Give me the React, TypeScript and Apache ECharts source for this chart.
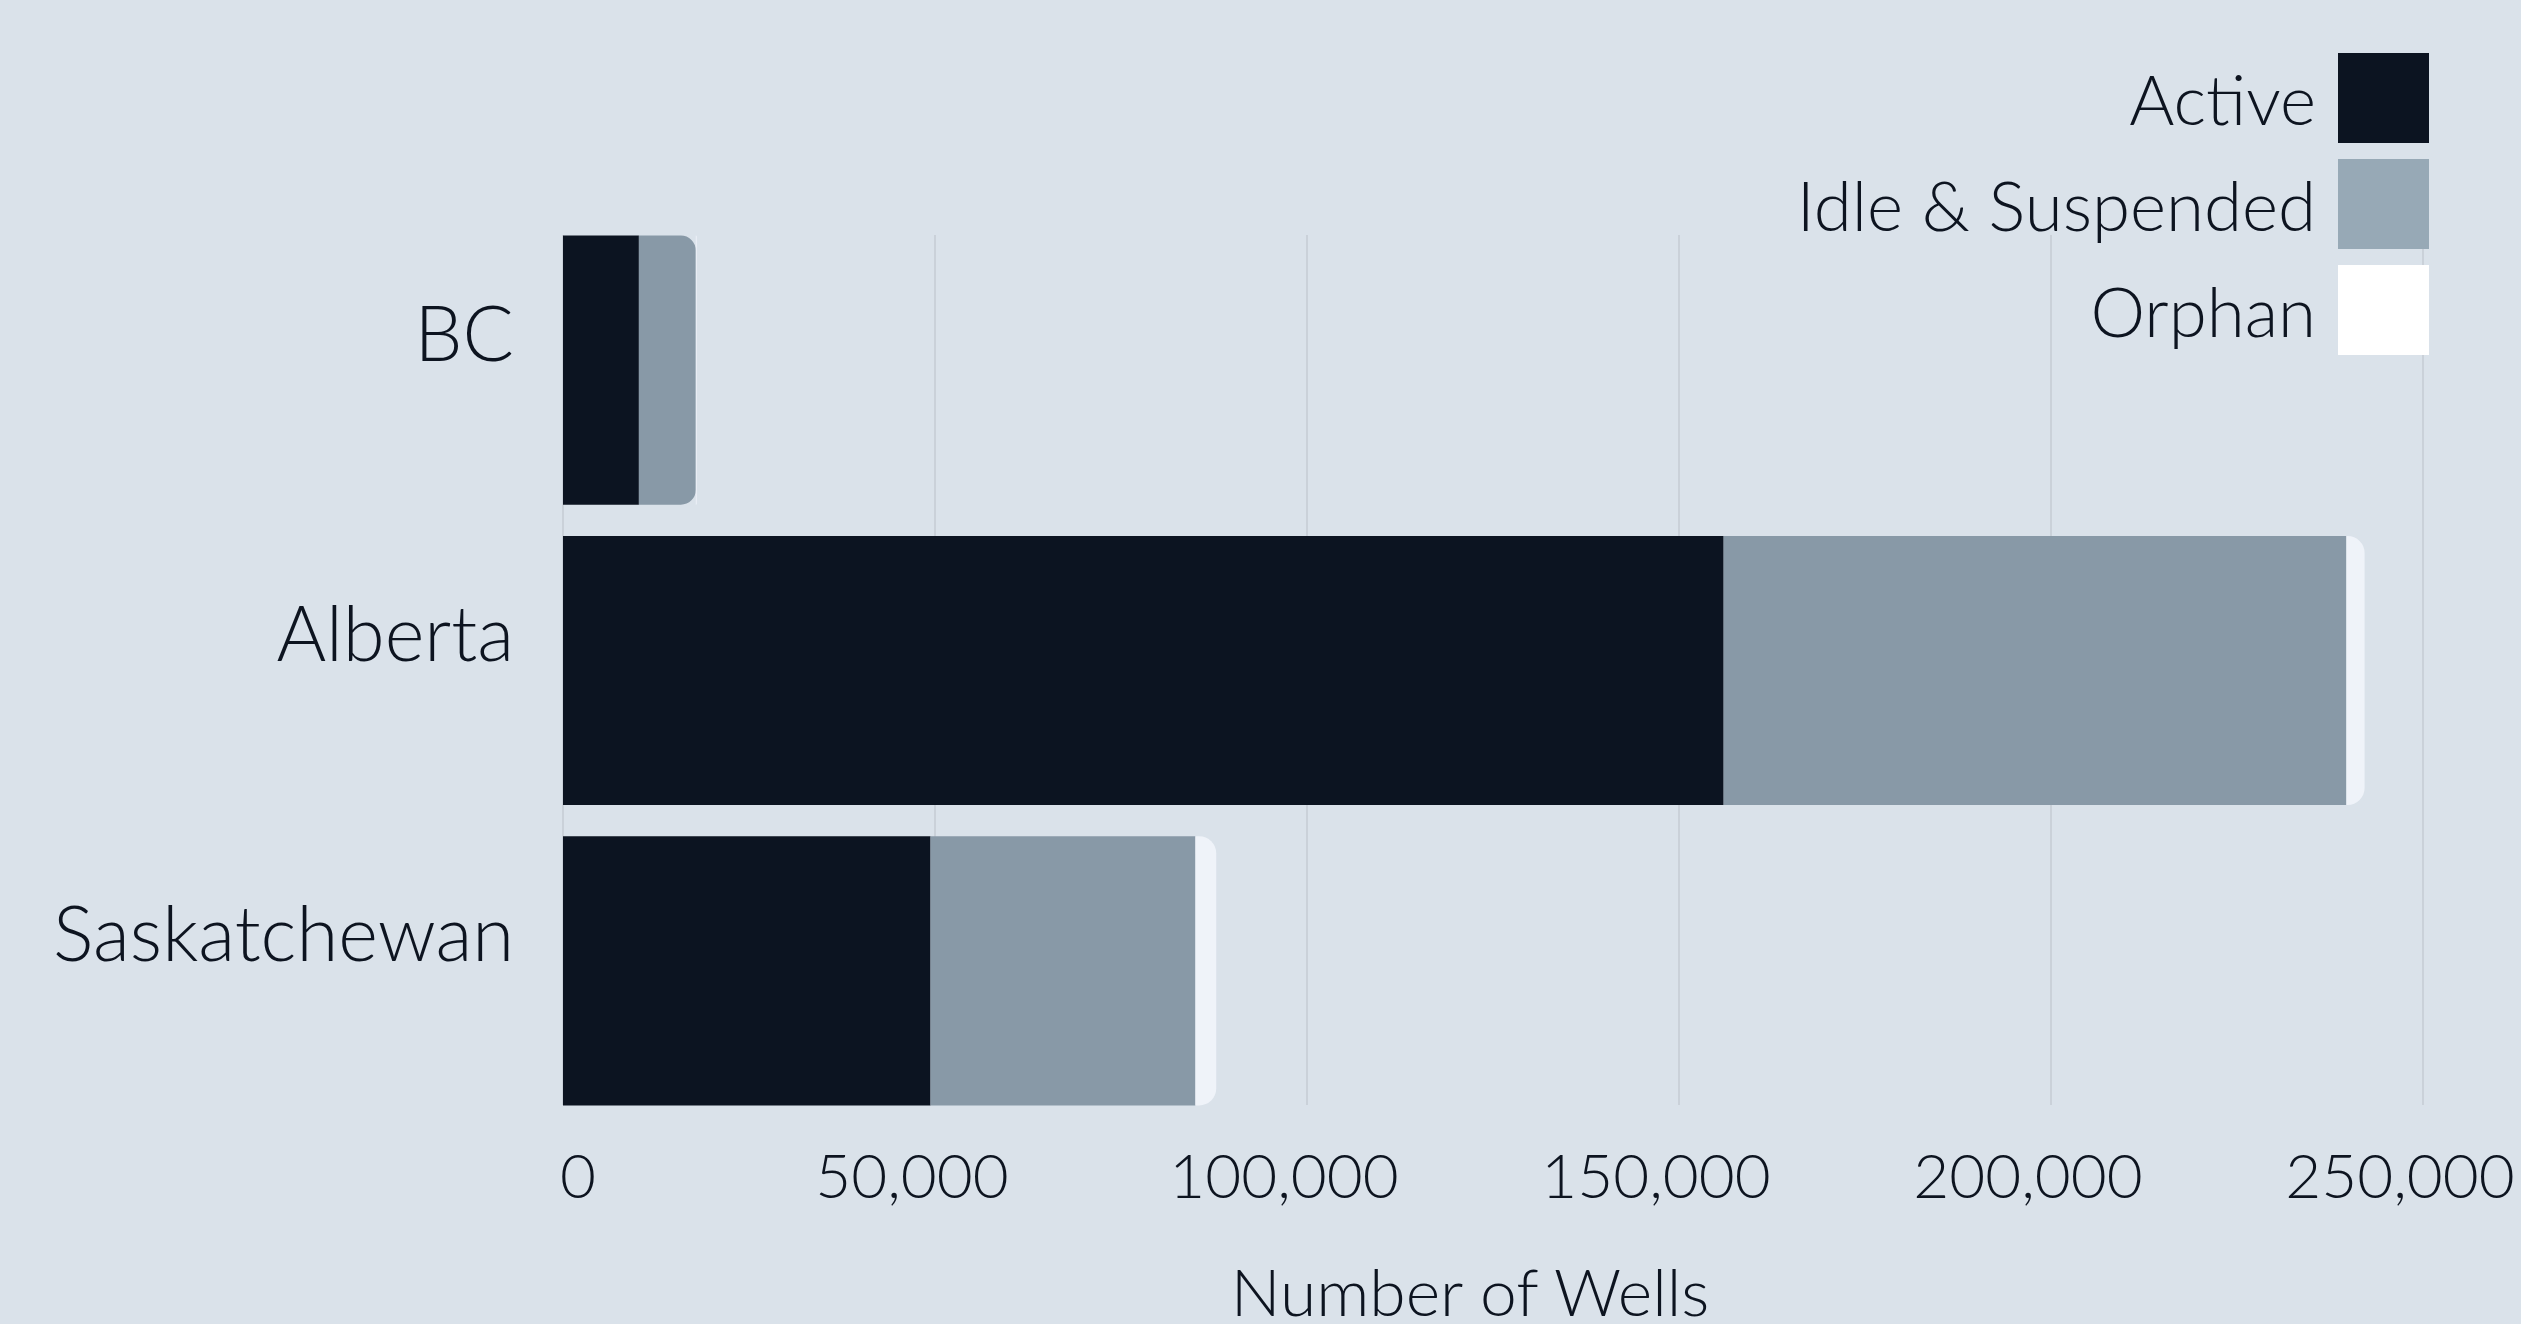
import React, { useEffect, useRef } from "react";
import * as echarts from "echarts";

const provinces = ["BC", "Alberta", "Saskatchewan"];
const activeWells = [10200, 156000, 49400];
const idleWells = [7650, 83700, 35600];
const orphanWells = [120, 2450, 2800];
const tickValues = [0, 50000, 100000, 150000, 200000, 250000];
const seriesNames = ["Active", "Idle & Suspended", "Orphan"];

const BG = "#dae2ea";
const TEXT = "#0d1420";
const FONT = "Lato";

export default function App() {
  const ref = useRef<HTMLDivElement>(null);
  useEffect(() => {
    document.body.style.margin = "0";
    const chart = echarts.init(ref.current!, undefined, { renderer: "svg" });
    const fmt = (v: number) =>
      v === tickValues[0] ? "{z|0}" : "{n|" + v.toLocaleString("en-US") + "}";
    chart.setOption({
      animation: false,
      backgroundColor: BG,
      textStyle: { fontFamily: FONT, color: TEXT },
      legend: {
        orient: "vertical",
        right: 92,
        top: 53,
        align: "right",
        itemWidth: 91,
        itemHeight: 90,
        itemGap: 16,
        padding: 0,
        icon: "rect",
        textStyle: { fontSize: 69, fontWeight: 300, color: TEXT, fontFamily: FONT, padding: [0, 17, 10, 0] },
        data: [
          { name: seriesNames[0], itemStyle: { color: "#0c1421" } },
          { name: seriesNames[1], itemStyle: { color: "#97a9b6" } },
          { name: seriesNames[2], itemStyle: { color: "#ffffff" } },
        ],
      },
      grid: [
        { left: 563, right: 98, top: 220, bottom: 203, outerBoundsMode: "none", containLabel: false },
        { left: 563, right: 98, top: 235, bottom: 219, outerBoundsMode: "none", containLabel: false },
      ],
      xAxis: [
        {
          type: "value",
          gridIndex: 0,
          min: 0,
          max: 250000,
          interval: 50000,
          axisLine: { show: false },
          axisTick: { show: false },
          splitLine: { show: false },
          axisLabel: {
            margin: 22,
            formatter: fmt,
            rich: {
              z: { fontSize: 62, fontWeight: 300, color: TEXT, fontFamily: FONT, padding: [0, 0, 0, 30] },
              n: { fontSize: 62, fontWeight: 300, color: TEXT, fontFamily: FONT, padding: [0, 46, 0, 0] },
            },
          },
          name: "Number of Wells",
          nameLocation: "middle",
          nameGap: 141,
          nameTextStyle: {
            fontSize: 66,
            lineHeight: 56,
            fontWeight: 300,
            color: TEXT,
            fontFamily: FONT,
            padding: [0, 46, 0, 0],
          },
        },
        {
          type: "value",
          gridIndex: 1,
          min: 0,
          max: 250000,
          interval: 50000,
          axisLine: { show: false },
          axisTick: { show: false },
          axisLabel: { show: false },
          splitLine: { show: true, lineStyle: { color: "#c4cbd3", width: 1.5 } },
        },
      ],
      yAxis: [
        {
          type: "category",
          gridIndex: 0,
          data: provinces,
          inverse: true,
          axisLine: { show: false },
          axisTick: { show: false },
          axisLabel: {
            formatter: (v: string) => "{c|" + v + "}",
            margin: 49,
            rich: {
              c: {
                fontSize: 76,
                fontWeight: 300,
                color: TEXT,
                fontFamily: FONT,
                lineHeight: 80,
                padding: [0, 0, 78, 0],
              },
            },
          },
        },
        {
          type: "category",
          gridIndex: 1,
          data: provinces,
          inverse: true,
          show: false,
        },
      ],
      series: [
        {
          name: seriesNames[0],
          type: "bar",
          stack: "wells",
          barCategoryGap: "10.4%",
          itemStyle: { color: "#0c1421" },
          data: activeWells,
        },
        {
          name: seriesNames[1],
          type: "bar",
          stack: "wells",
          barCategoryGap: "10.4%",
          itemStyle: { color: "#8899a7" },
          data: idleWells.map((v, i) =>
            i === 0 ? { value: v, itemStyle: { borderRadius: [0, 15, 15, 0] } } : v
          ),
        },
        {
          name: seriesNames[2],
          type: "bar",
          stack: "wells",
          barCategoryGap: "10.4%",
          itemStyle: { color: "#eff3f9", borderRadius: [0, 17, 17, 0] },
          data: orphanWells,
        },
      ],
    });
    return () => chart.dispose();
  }, []);
  return (
    <div
      ref={ref}
      style={{ position: "fixed", left: 0, top: 0, width: 2521, height: 1324 }}
    />
  );
}
